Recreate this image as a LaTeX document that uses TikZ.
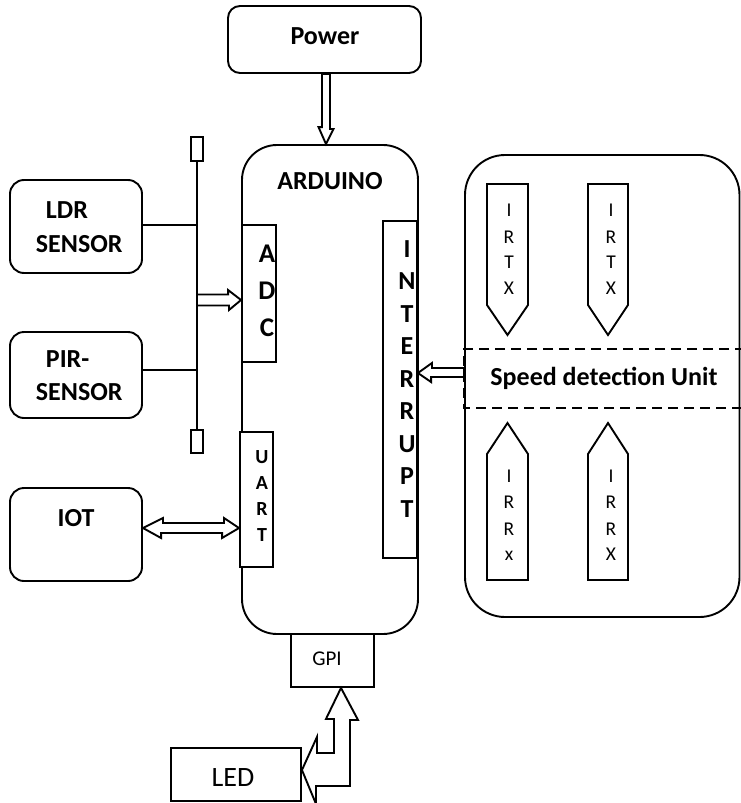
\documentclass[tikz,border=0pt]{standalone}
\usepackage{fontspec}
\setmainfont{Carlito}
\usetikzlibrary{calc}
\begin{document}
\begin{tikzpicture}[x=1pt,y=-1pt,line width=1.9pt,
  rbox/.style={draw, rounded corners=#1, inner sep=0pt},
  rbox/.default=14pt,
  sbox/.style={draw, fill=white, inner sep=0pt},
  hollow/.style={draw, fill=white, line join=miter},
  bt/.style={font=\fontsize{26}{30}\selectfont\bfseries, inner sep=0pt, anchor=base},
  btw/.style={bt, anchor=base west},
  ut/.style={font=\fontsize{20}{24}\selectfont\bfseries, inner sep=0pt, anchor=base},
  it/.style={font=\fontsize{19.5}{22}\selectfont, inner sep=0pt, anchor=base},
  dashline/.style={dash pattern=on 10pt off 6pt}
]
\useasboundingbox (0,0) rectangle (740,803);

% main blocks
\node[rbox=12pt, minimum width=193pt, minimum height=67pt] (power) at (324.5,39.5) {};
\node[bt] (powert) at (325,44) {Power};

\node[rbox=35pt, minimum width=176pt, minimum height=489pt] (arduino) at (330,389.5) {};
\node[bt] (arduinot) at (330,189) {ARDUINO};

\node[sbox, minimum width=34pt, minimum height=137pt] (adc) at (259,293.5) {};
\foreach \l/\y in {A/262,D/299,C/336}
  \node[bt, font=\fontsize{27}{30}\selectfont\bfseries] (adc\l) at (267,\y) {\l};

\node[sbox, minimum width=34pt, minimum height=337pt] (intr) at (400,389.5) {};
\foreach \l [count=\i from 0] in {I,N,T,E,R,R,U,P,T}
  \node[bt] (intr\i) at (407,257+32.5*\i) {\l};

\node[sbox, minimum width=33pt, minimum height=135pt] (uart) at (256.5,499.5) {};
\foreach \l [count=\i from 0] in {U,A,R,T}
  \node[ut] (uart\i) at (262,463+26.3*\i) {\l};

\node[sbox, minimum width=83pt, minimum height=53pt] (gpi) at (332.5,660.5) {};
\node[font=\fontsize{21}{24}\selectfont, inner sep=0pt, anchor=base] (gpit) at (327,665) {GPI};

% sensors
\node[rbox, minimum width=132pt, minimum height=93pt] (ldr) at (76,226.5) {};
\node[btw] (ldrt1) at (45,218) {LDR};
\node[btw] (ldrt2) at (35,252) {SENSOR};

\node[rbox, minimum width=132pt, minimum height=86pt] (pir) at (76,375) {};
\node[btw] (pirt1) at (45,367) {PIR-};
\node[btw] (pirt2) at (35,400) {SENSOR};

\node[rbox, minimum width=132pt, minimum height=93pt] (iot) at (76,534.5) {};
\node[bt] (iott) at (76,526) {IOT};

% bus
\coordinate (bt) at (197,162);
\coordinate (bb) at (197,429);
\draw (bt) -- (bb);
\node[sbox, minimum width=12pt, minimum height=24pt, anchor=south] (cap1) at (bt) {};
\node[sbox, minimum width=12pt, minimum height=23pt, anchor=north] (cap2) at (bb) {};
\draw (ldr.east |- 0,225) -- (bt |- 0,225);
\draw (pir.east |- 0,370) -- (bt |- 0,370);

% speed detection unit
\node[rbox=40pt, minimum width=274.5pt, minimum height=462pt] (unit) at (602.25,386) {};
\draw[dashline] (745,349) -| (unit.west |- 0,408) -- (745,408);
\node[bt] (sdu) at (604,385) {Speed detection Unit};

% IR transmitters / receivers
\draw (487,184) coordinate (tx1) -- (528,184) -- (528,305) -- (507.5,335) -- (487,305) -- cycle;
\draw (588,184) coordinate (tx2) -- (628,184) -- (628,305) -- (608,335) -- (588,305) -- cycle;
\draw (487,580) coordinate (rx1) -- (487,454) -- (507.5,423) -- (528,454) -- (528,580) -- cycle;
\draw (588,580) coordinate (rx2) -- (588,454) -- (608,423) -- (628,454) -- (628,580) -- cycle;
\foreach \l/\y in {I/216,R/243,T/268,X/294} {
  \node[it] (txa\y) at (509,\y) {\l};
  \node[it] (txb\y) at (611,\y) {\l};
}
\foreach \l/\y in {I/482,R/508,R/535,x/560}
  \node[it] (rxa\y) at (509,\y) {\l};
\foreach \l/\y in {I/482,R/508,R/535,X/560}
  \node[it] (rxb\y) at (611,\y) {\l};

% LED
\node[sbox, minimum width=130pt, minimum height=53pt] (led) at (236,774.5) {};
\node[font=\fontsize{28}{30}\selectfont, inner sep=0pt, anchor=base] (ledt) at (233,786) {LED};

% hollow arrows
\coordinate (ptip) at (arduino.north -| 326,0);
\draw[hollow] (ptip) -- ++(-7.5,-17) -- ++(3.5,0) -- (power.south -| 322,0) -- (power.south -| 330,0) -- ++(0,55) -- ++(3.5,0) -- cycle;

\coordinate (btip) at (arduino.west |- 0,300);
\draw[hollow] (btip) -- ++(-13,-10) -- ++(0,4.5) -- (bt |- 0,294.5) -- (bt |- 0,305.5) -- ++(32,0) -- ++(0,4.5) -- cycle;

\coordinate (itip) at (intr.east |- 0,373);
\draw[hollow] (itip) -- ++(14,-10) -- ++(0,5) -- (unit.west |- 0,368) -- (unit.west |- 0,377) -- ++(-33,0) -- ++(0,5) -- cycle;

\coordinate (ltip) at (iot.east |- 0,528);
\draw[hollow] (ltip) -- ++(20,-10) -- ++(0,5) -- ++(61,0) -- ++(0,-5) -- (uart.west |- 0,528) -- ++(-17,10) -- ++(0,-5) -- ++(-61,0) -- ++(0,5) -- cycle;

\coordinate (etip) at (led.east |- 0,770);
\draw[hollow] (etip) -- ++(15,-33) -- ++(0,16) -- ++(17,0) -- ++(0,-34) -- ++(-8,0) -- (gpi.south -| 341,0) -- ++(17,32) -- ++(-8,0) -- ++(0,66) -- ++(-34,0) -- ++(0,18) -- cycle;
\end{tikzpicture}
\end{document}
